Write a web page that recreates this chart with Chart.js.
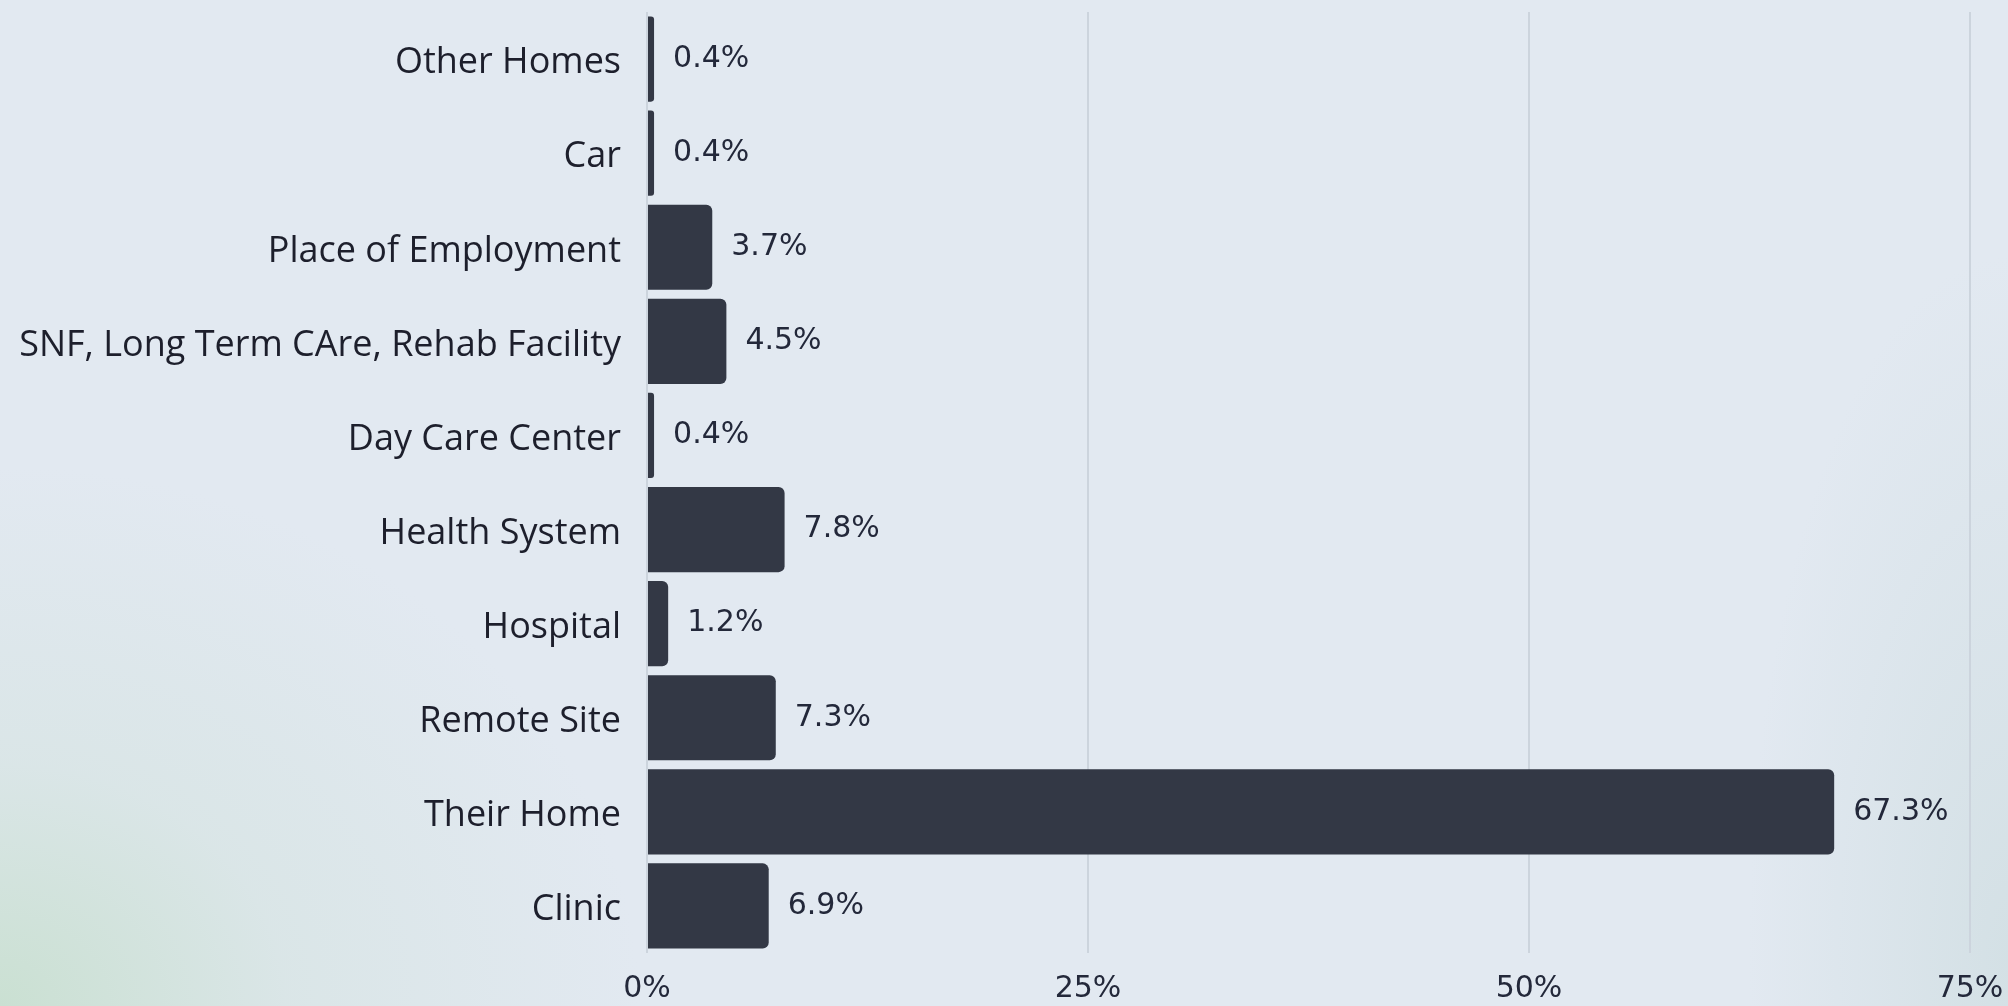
<!DOCTYPE html>
<html>
<head>
<meta charset="utf-8">
<script src="https://cdn.jsdelivr.net/npm/chart.js@4/dist/chart.umd.min.js"></script>
<style>
html, body { margin: 0; padding: 0; width: 2008px; height: 1006px; overflow: hidden; }
body {
  background:
    radial-gradient(ellipse 640px 540px at 0% 100%, rgba(202,224,210,1) 0%, rgba(214,228,226,0.65) 45%, rgba(226,233,241,0) 100%),
    radial-gradient(ellipse 260px 700px at 100% 95%, rgba(208,222,226,0.8) 0%, rgba(226,233,241,0) 100%),
    #e2e9f1;
}
#wrap { position: relative; width: 2008px; height: 1006px; }
</style>
</head>
<body>
<div id="wrap"><canvas id="chart"></canvas></div>
<script>
const categories = [
  "Other Homes",
  "Car",
  "Place of Employment",
  "SNF, Long Term CAre, Rehab Facility",
  "Day Care Center",
  "Health System",
  "Hospital",
  "Remote Site",
  "Their Home",
  "Clinic"
];
const values = [0.4, 0.4, 3.7, 4.5, 0.4, 7.8, 1.2, 7.3, 67.3, 6.9];
const valueLabels = ["0.4%", "0.4%", "3.7%", "4.5%", "0.4%", "7.8%", "1.2%", "7.3%", "67.3%", "6.9%"];
const xTickValues = [0, 25, 50, 75];
const xTickLabels = ["0%", "25%", "50%", "75%"];

const valueLabelPlugin = {
  id: 'valueLabels',
  afterDatasetsDraw(chart) {
    const ctx = chart.ctx;
    const meta = chart.getDatasetMeta(0);
    ctx.save();
    ctx.font = '30px "DejaVu Sans"';
    ctx.fillStyle = '#23283a';
    ctx.textAlign = 'left';
    ctx.textBaseline = 'middle';
    meta.data.forEach((bar, i) => {
      ctx.fillText(valueLabels[i], bar.x + 19, bar.y);
    });
    ctx.restore();
  }
};

new Chart(document.getElementById('chart'), {
  type: 'bar',
  data: {
    labels: categories,
    datasets: [{
      data: values,
      backgroundColor: '#333845',
      borderRadius: 6,
      borderSkipped: 'start',
      barPercentage: 0.905,
      categoryPercentage: 1.0
    }]
  },
  options: {
    indexAxis: 'y',
    responsive: true,
    maintainAspectRatio: false,
    animation: false,
    layout: { padding: { top: 12, right: 38, bottom: 0, left: 0 } },
    plugins: { legend: { display: false }, tooltip: { enabled: false } },
    scales: {
      y: {
        grid: { display: false },
        border: { display: false },
        ticks: {
          color: '#1d1f2c',
          font: { family: 'Open Sans', size: 36 },
          padding: 18,
          labelOffset: 4
        },
        afterFit(scale) { scale.width = 647; scale.paddingTop = 0; scale.paddingBottom = 0; }
      },
      x: {
        min: 0,
        max: 75,
        afterBuildTicks(scale) { scale.ticks = xTickValues.map(v => ({ value: v })); },
        grid: { color: '#ccd4dd', lineWidth: 2, drawTicks: false },
        border: { display: false },
        ticks: {
          color: '#23283a',
          font: { family: 'DejaVu Sans', size: 30 },
          padding: 18,
          callback(value) { const i = xTickValues.indexOf(value); return i >= 0 ? xTickLabels[i] : ''; }
        },
        afterFit(scale) { scale.height = 53; scale.paddingLeft = 0; scale.paddingRight = 0; }
      }
    }
  },
  plugins: [valueLabelPlugin]
});
</script>
</body>
</html>
